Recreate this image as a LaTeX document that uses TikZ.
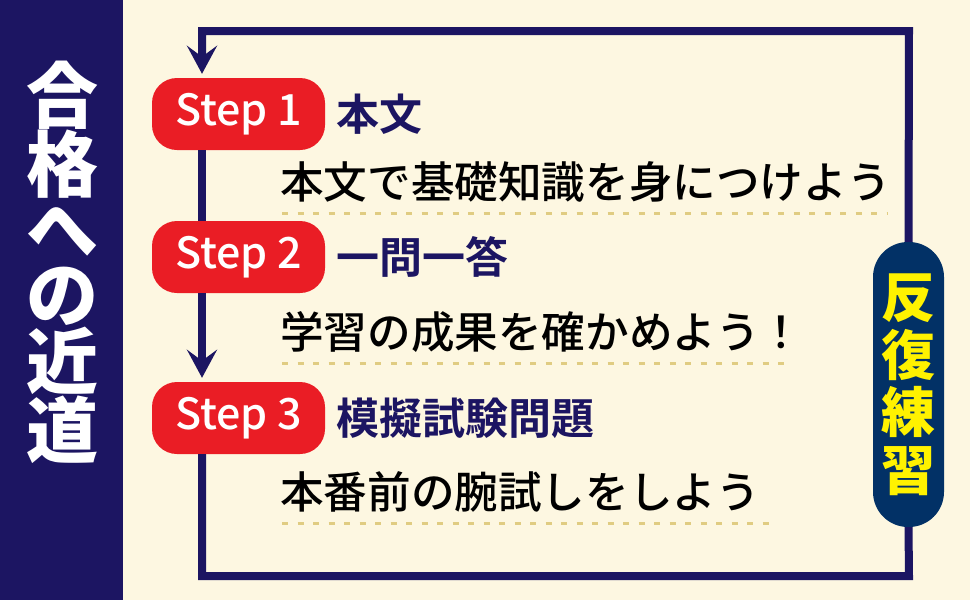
\documentclass[tikz,border=0pt]{standalone}
\usepackage{fontspec}
\usetikzlibrary{arrows.meta,positioning}
\newfontfamily\jp{Noto Sans CJK JP}[BoldFont=* Bold]
\newfontfamily\jpm{Noto Sans CJK JP Medium}
\newfontfamily\jpk{Noto Sans CJK JP Black}
\definecolor{navy}{RGB}{28,21,98}
\definecolor{stepred}{RGB}{234,29,37}
\definecolor{pillblue}{RGB}{2,49,102}
\definecolor{cream}{RGB}{253,247,225}
\definecolor{dashgold}{RGB}{224,204,130}
\begin{document}
\begin{tikzpicture}[x=1pt,y=-1pt,
  loopline/.style={line width=8pt,color=navy},
  tip/.style={-{Stealth[length=28pt,width=30pt,inset=11pt]},shorten >=4pt},
  stepbox/.style={fill=stepred,rounded corners=25pt,minimum width=173pt,minimum height=72pt,
    text=white,font=\jpm\fontsize{43}{43}\selectfont},
  steplabel/.style={inner sep=0pt,text=navy,font=\jp\bfseries\fontsize{43}{43}\selectfont},
  bodytext/.style={inner sep=0pt,anchor=west,font=\jpm\fontsize{43.6}{43.6}\selectfont},
  dotline/.style={line width=3pt,color=dashgold,dash pattern=on 6pt off 9.5pt}]
\useasboundingbox (0,0) rectangle (970,600);
\fill[cream] (0,0) rectangle (970,600);
\fill[navy] (0,0) rectangle (123,600);
% vertical title on the band
\node[text=white,align=center,inner sep=0pt,font=\jpk\fontsize{72}{65}\selectfont] (title) at (62,262)
  {合\\格\\へ\\の\\近\\道};
% the three steps
\foreach \n/\y/\lab/\by/\txt/\ex in {1/114/本文/182/本文で基礎知識を身につけよう/888,
  2/257/一問一答/332/学習の成果を確かめよう！/790,
  3/418/模擬試験問題/492/本番前の腕試しをしよう/770}
{
\node[stepbox] (step\n) at (238.5,\y) {Step \n};
\node[steplabel,right=11pt of step\n] (lab\n) {\lab};
\node[bodytext] (body\n) at (280,\by) {\txt};
\draw[dotline] (282,\by+31) -- (\ex,\by+31);
}
% repeat pill
\node[fill=pillblue,rounded corners=35pt,minimum width=71pt,minimum height=285pt,inner sep=0pt,
  text=yellow,align=center,font=\jpk\fontsize{54}{57.5}\selectfont] (rep) at (908.5,384.5)
  {反\\復\\練\\習};
\coordinate (tr) at (909,31);
\coordinate (tl) at (202,31);
\coordinate (br) at (909,576);
\coordinate (bl) at (202,576);
\draw[loopline,tip] (rep.north) -- (tr) -- (tl) -- (step1.north -| tl);
\draw[loopline] (step1.south -| tl) -- (step2.north -| tl);
\draw[loopline,tip] (step2.south -| tl) -- (step3.north -| tl);
\draw[loopline] (rep.south) -- (br) -- (bl) -- (step3.south -| bl);
\end{tikzpicture}
\end{document}
